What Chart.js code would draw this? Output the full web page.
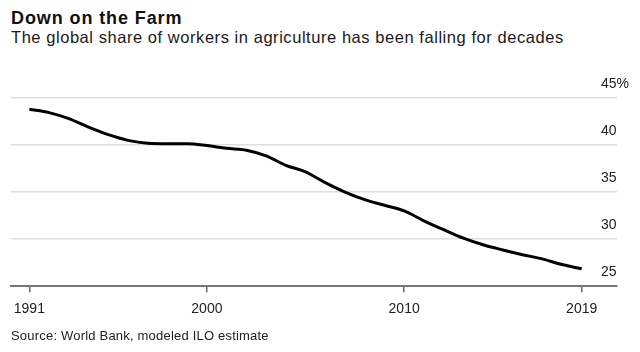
<!DOCTYPE html>
<html>
<head>
<meta charset="utf-8">
<script src="https://cdn.jsdelivr.net/npm/chart.js@4/dist/chart.umd.min.js"></script>
<style>
  html, body { margin: 0; padding: 0; background: #fff; }
  body { width: 640px; height: 352px; position: relative; overflow: hidden; font-family: "Liberation Sans", Arial, sans-serif; color: #111; }
  #title { position: absolute; left: 11px; top: 8px; font-weight: bold; font-size: 18px; letter-spacing: 0.9px; white-space: nowrap; }
  #sub { position: absolute; left: 11px; top: 28px; font-size: 16.5px; letter-spacing: 0.55px; white-space: nowrap; color: #1a1a1a; }
  #src { position: absolute; left: 11px; top: 328px; font-size: 13px; letter-spacing: 0.2px; white-space: nowrap; color: #222; }
  #wrap { position: absolute; left: 0; top: 60px; width: 640px; height: 270px; }
</style>
</head>
<body>
<div id="title">Down on the Farm</div>
<div id="sub">The global share of workers in agriculture has been falling for decades</div>
<div id="wrap"><canvas id="c"></canvas></div>
<div id="src">Source: World Bank, modeled ILO estimate</div>
<script>
const years = [1991,1992,1993,1994,1995,1996,1997,1998,1999,2000,2001,2002,2003,2004,2005,2006,2007,2008,2009,2010,2011,2012,2013,2014,2015,2016,2017,2018,2019];
const shareAgri = [43.8,43.45,42.8,41.9,41.1,40.5,40.2,40.15,40.15,39.95,39.65,39.45,38.85,37.85,37.15,36.0,35.0,34.2,33.6,33.0,31.95,31.0,30.1,29.4,28.85,28.35,27.9,27.3,26.85];
const xTickYears = [1991, 2000, 2010, 2019];
const yTickValues = [25, 30, 35, 40, 45];
const yTickLabels = ['25', '30', '35', '40', '45%'];

const points = years.map((yr, i) => ({ x: yr, y: shareAgri[i] }));

const yLabelPlugin = {
  id: 'yLabels',
  afterDraw(chart) {
    const ctx = chart.ctx;
    const ys = chart.scales.y;
    const area = chart.chartArea;
    ctx.save();
    ctx.font = '14px "Liberation Sans", Arial, sans-serif';
    ctx.fillStyle = '#222';
    ctx.textAlign = 'left';
    ctx.textBaseline = 'middle';
    yTickValues.forEach((v, i) => {
      ctx.fillText(yTickLabels[i], area.right - 16, ys.getPixelForValue(v) - 14);
    });
    ctx.restore();
  }
};

new Chart(document.getElementById('c'), {
  type: 'line',
  data: {
    datasets: [{
      data: points,
      borderColor: '#000',
      borderWidth: 3,
      pointRadius: 0,
      cubicInterpolationMode: 'monotone',
      fill: false
    }]
  },
  plugins: [yLabelPlugin],
  options: {
    responsive: true,
    maintainAspectRatio: false,
    animation: false,
    layout: { padding: { left: 11, right: 10, top: 38, bottom: 4 } },
    plugins: { legend: { display: false }, tooltip: { enabled: false } },
    scales: {
      x: {
        type: 'linear',
        min: 1990.07,
        max: 2020.79,
        afterBuildTicks: s => { s.ticks = xTickYears.map(v => ({ value: v })); },
        ticks: {
          callback: v => String(v),
          color: '#222',
          font: { family: '"Liberation Sans", Arial, sans-serif', size: 14 },
          padding: 8.5,
          maxRotation: 0,
          autoSkip: false
        },
        grid: { display: true, drawOnChartArea: false, drawTicks: true, tickLength: 6, color: '#666', lineWidth: 1.5 },
        border: { display: true, color: '#777', width: 2 }
      },
      y: {
        position: 'right',
        min: 25,
        max: 45,
        afterBuildTicks: s => { s.ticks = yTickValues.map(v => ({ value: v })); },
        afterFit: s => { s.width = 13; },
        ticks: { display: false },
        grid: { color: '#dedede', lineWidth: 1.5, drawTicks: false },
        border: { display: false }
      }
    }
  }
});
</script>
</body>
</html>
